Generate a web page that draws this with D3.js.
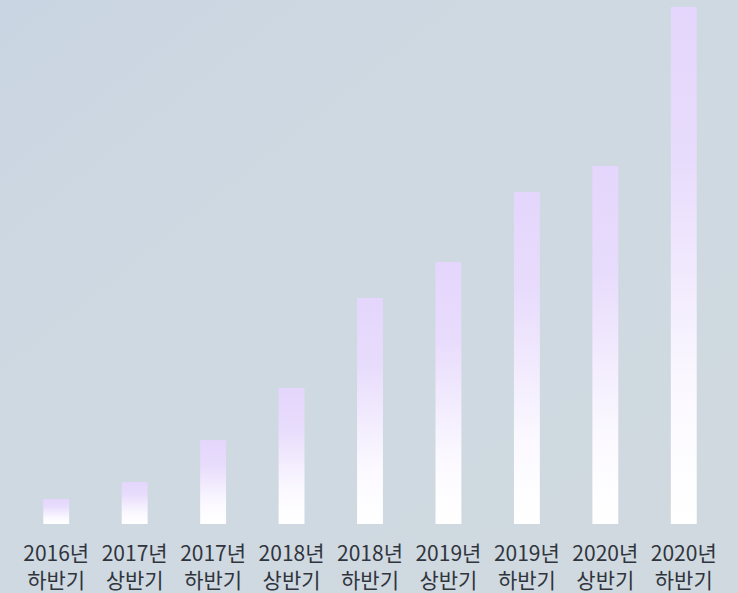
<!DOCTYPE html>
<html>
<head>
<meta charset="utf-8">
<script src="https://d3js.org/d3.v7.min.js"></script>
<style>
body { margin: 0; }
svg { display: block; font-family: "Noto Sans CJK KR", "Noto Sans", sans-serif; }
</style>
</head>
<body>
<svg id="chart" width="738" height="593"></svg>
<script>
// periods (two-line labels) and bar values
var years = ['2016년', '2017년', '2017년', '2018년', '2018년', '2019년', '2019년', '2020년', '2020년'];
var halves = ['하반기', '상반기', '하반기', '상반기', '하반기', '상반기', '하반기', '상반기', '하반기'];
var values = [2.5, 4.2, 8.4, 13.6, 22.6, 26.2, 33.2, 35.8, 51.7];

var width = 738, height = 593;
var svg = d3.select('#chart');
var defs = svg.append('defs');

//background: soft diagonal blue-gray
var bg = defs.append('linearGradient').attr('id', 'bg')
  .attr('x1', '0').attr('y1', '0').attr('x2', '1').attr('y2', '1');
bg.append('stop').attr('offset', '0').attr('stop-color', '#c9d5e2');
bg.append('stop').attr('offset', '0.35').attr('stop-color', '#cfd9e2');
bg.append('stop').attr('offset', '1').attr('stop-color', '#d0d9df');
svg.append('rect').attr('width', width).attr('height', height).attr('fill', 'url(#bg)');

//bar fill: lavender at the top fading to white
var bar = defs.append('linearGradient').attr('id', 'barFill')
  .attr('x1', '0').attr('y1', '0').attr('x2', '0').attr('y2', '1');
bar.append('stop').attr('offset', '0').attr('stop-color', '#e4d6fc');
bar.append('stop').attr('offset', '0.3').attr('stop-color', '#e8dcfc');
bar.append('stop').attr('offset', '0.75').attr('stop-color', '#fbf9ff');
bar.append('stop').attr('offset', '1').attr('stop-color', '#ffffff');

var x = d3.scaleBand().domain(d3.range(values.length))
  .range([17, 723]).paddingInner(0.67).paddingOuter(0.335);
var y = d3.scaleLinear().domain([0, d3.max(values)]).range([524, 7]);

svg.append('g').selectAll('rect').data(values).enter().append('rect')
  .attr('x', function(d, i) { return x(i); })
  .attr('y', function(d) { return y(d); })
  .attr('width', x.bandwidth())
  .attr('height', function(d) { return y(0) - y(d); })
  .attr('fill', 'url(#barFill)');

var labels = svg.append('g').attr('fill', '#30353d').attr('font-size', '21px')
  .attr('text-anchor', 'middle');
labels.selectAll('text.yr').data(years).enter().append('text').attr('class', 'yr')
  .attr('x', function(d, i) { return x(i) + x.bandwidth() / 2; })
  .attr('y', 561).text(function(d) { return d; });
labels.selectAll('text.hf').data(halves).enter().append('text').attr('class', 'hf')
  .attr('x', function(d, i) { return x(i) + x.bandwidth() / 2; })
  .attr('y', 588).text(function(d) { return d; });
</script>
</body>
</html>
